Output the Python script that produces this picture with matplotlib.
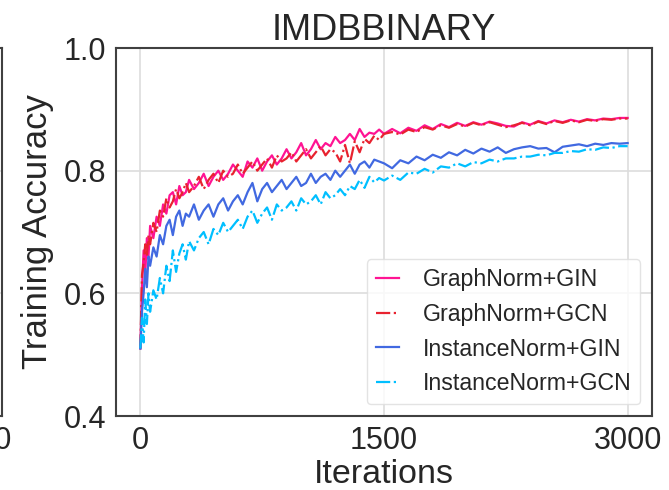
import matplotlib
matplotlib.use("Agg")
import matplotlib.pyplot as plt

# --- DATOS ---
iters = [0, 10, 20, 30, 40, 50, 60, 80, 100, 120, 140, 160, 180, 200, 220, 240,
         260, 280, 300, 330, 360, 390, 420, 450, 480, 510, 540, 570, 600, 630,
         660, 690, 720, 750, 780, 810, 840, 870, 900, 930, 960, 990, 1020, 1050,
         1080, 1110, 1140, 1170, 1200, 1230, 1260, 1290, 1320, 1350, 1380, 1410,
         1440, 1470, 1500, 1550, 1600, 1650, 1700, 1750, 1800, 1850, 1900, 1950,
         2000, 2050, 2100, 2150, 2200, 2250, 2300, 2350, 2400, 2450, 2500, 2550,
         2600, 2650, 2700, 2750, 2800, 2850, 2900, 2950, 3000]

graphnorm_gin = [0.51, 0.61, 0.67, 0.63, 0.69, 0.66, 0.71, 0.69, 0.725, 0.71,
                 0.745, 0.73, 0.76, 0.765, 0.745, 0.775, 0.76, 0.765, 0.785,
                 0.77, 0.78, 0.795, 0.775, 0.79, 0.80, 0.785, 0.795, 0.81, 0.80,
                 0.79, 0.815, 0.805, 0.82, 0.80, 0.815, 0.825, 0.81, 0.82, 0.835,
                 0.82, 0.83, 0.845, 0.825, 0.835, 0.85, 0.835, 0.845, 0.84, 0.855,
                 0.845, 0.85, 0.86, 0.85, 0.868, 0.855, 0.862, 0.86, 0.867, 0.86,
                 0.868, 0.861, 0.870, 0.865, 0.874, 0.868, 0.876, 0.871, 0.878,
                 0.873, 0.879, 0.875, 0.880, 0.877, 0.873, 0.872, 0.879, 0.875,
                 0.881, 0.877, 0.882, 0.879, 0.883, 0.880, 0.884, 0.882, 0.885,
                 0.884, 0.886, 0.886]

graphnorm_gcn = [0.51, 0.63, 0.65, 0.68, 0.66, 0.695, 0.68, 0.715, 0.70, 0.735,
                 0.725, 0.755, 0.74, 0.75, 0.77, 0.755, 0.765, 0.78, 0.765,
                 0.775, 0.79, 0.77, 0.785, 0.795, 0.78, 0.80, 0.79, 0.795, 0.81,
                 0.795, 0.805, 0.815, 0.80, 0.81, 0.82, 0.805, 0.825, 0.815, 0.82,
                 0.83, 0.815, 0.825, 0.835, 0.82, 0.83, 0.84, 0.825, 0.835, 0.83,
                 0.815, 0.842, 0.812, 0.848, 0.83, 0.852, 0.845, 0.857, 0.85, 0.86,
                 0.863, 0.859, 0.867, 0.863, 0.871, 0.867, 0.874, 0.870, 0.876,
                 0.872, 0.878, 0.874, 0.879, 0.875, 0.871, 0.874, 0.878, 0.874,
                 0.880, 0.876, 0.881, 0.878, 0.882, 0.879, 0.883, 0.881, 0.884,
                 0.883, 0.885, 0.885]

instnorm_gin = [0.51, 0.57, 0.60, 0.64, 0.61, 0.66, 0.645, 0.675, 0.66, 0.695,
                0.68, 0.71, 0.72, 0.695, 0.725, 0.735, 0.71, 0.73, 0.725,
                0.745, 0.72, 0.735, 0.745, 0.725, 0.745, 0.755, 0.735, 0.75, 0.76,
                0.745, 0.765, 0.78, 0.75, 0.77, 0.78, 0.765, 0.775, 0.785, 0.77,
                0.78, 0.79, 0.775, 0.78, 0.795, 0.78, 0.79, 0.795, 0.785, 0.80,
                0.79, 0.80, 0.81, 0.795, 0.81, 0.815, 0.805, 0.818, 0.815, 0.812,
                0.804, 0.817, 0.812, 0.823, 0.817, 0.826, 0.821, 0.830, 0.825,
                0.834, 0.828, 0.836, 0.831, 0.838, 0.829, 0.835, 0.838, 0.840,
                0.836, 0.837, 0.830, 0.839, 0.841, 0.843, 0.840, 0.844, 0.842,
                0.845, 0.844, 0.845]

instnorm_gcn = [0.51, 0.56, 0.52, 0.59, 0.55, 0.60, 0.57, 0.605, 0.59, 0.625,
                0.60, 0.645, 0.62, 0.67, 0.635, 0.665, 0.68, 0.655, 0.685,
                0.67, 0.69, 0.70, 0.68, 0.705, 0.695, 0.715, 0.70, 0.71, 0.72,
                0.705, 0.725, 0.735, 0.715, 0.73, 0.74, 0.72, 0.745, 0.735, 0.74,
                0.75, 0.735, 0.755, 0.745, 0.75, 0.76, 0.745, 0.765, 0.755, 0.76,
                0.77, 0.76, 0.775, 0.77, 0.785, 0.772, 0.79, 0.781, 0.788, 0.784,
                0.792, 0.785, 0.797, 0.795, 0.803, 0.797, 0.807, 0.805, 0.812,
                0.807, 0.814, 0.812, 0.818, 0.815, 0.820, 0.820, 0.823, 0.823,
                0.826, 0.825, 0.829, 0.829, 0.832, 0.831, 0.835, 0.834, 0.838,
                0.837, 0.840, 0.840]

series = [
    ("GraphNorm+GIN", graphnorm_gin, "#ff1493", "-"),
    ("GraphNorm+GCN", graphnorm_gcn, "#e8222f", "-."),
    ("InstanceNorm+GIN", instnorm_gin, "#4169e1", "-"),
    ("InstanceNorm+GCN", instnorm_gcn, "#00bfff", "-."),
]

x_ticks = [0, 1500, 3000]
y_ticks = [0.4, 0.6, 0.8, 1.0]

# --- ESTILO ---
plt.rcParams['font.family'] = ['Liberation Sans', 'DejaVu Sans']
plt.rcParams['text.color'] = '0.15'
plt.rcParams['axes.labelcolor'] = '0.15'
plt.rcParams['xtick.color'] = '0.15'
plt.rcParams['ytick.color'] = '0.15'


def style_axes(ax):
    ax.set_xlim(-150, 3150)
    ax.set_ylim(0.4, 1.0)
    ax.set_xticks(x_ticks)
    ax.set_yticks(y_ticks)
    ax.grid(True, color='#dddddd', linewidth=1.2)
    ax.set_axisbelow(True)
    ax.tick_params(length=0, labelsize=22, pad=7)
    for sp in ax.spines.values():
        sp.set_color('0.25')
        sp.set_linewidth(1.5)


fig = plt.figure(figsize=(6.69, 4.90), dpi=100)

# panel vecino (solo se ve el borde derecho)
ax_prev = fig.add_axes([0.003 - 0.8012, 0.151, 0.8012, 0.751])
style_axes(ax_prev)
ax_prev.set_yticklabels([])

ax = fig.add_axes([0.1734, 0.151, 0.8012, 0.751])
style_axes(ax)
for name, vals, color, ls in series:
    ax.plot(iters, vals, color=color, linestyle=ls, linewidth=1.6, label=name)

ax.set_title("IMDBBINARY", fontsize=26, pad=6)
ax.set_xlabel("Iterations", fontsize=24.5, labelpad=2)
ax.set_ylabel("Training Accuracy", fontsize=25, labelpad=7)
ax.legend(loc='lower right', fontsize=16.7, handlelength=1.0, handletextpad=1.0,
          framealpha=0.8, edgecolor='#dddddd')

fig.savefig("out.png", dpi=100)
